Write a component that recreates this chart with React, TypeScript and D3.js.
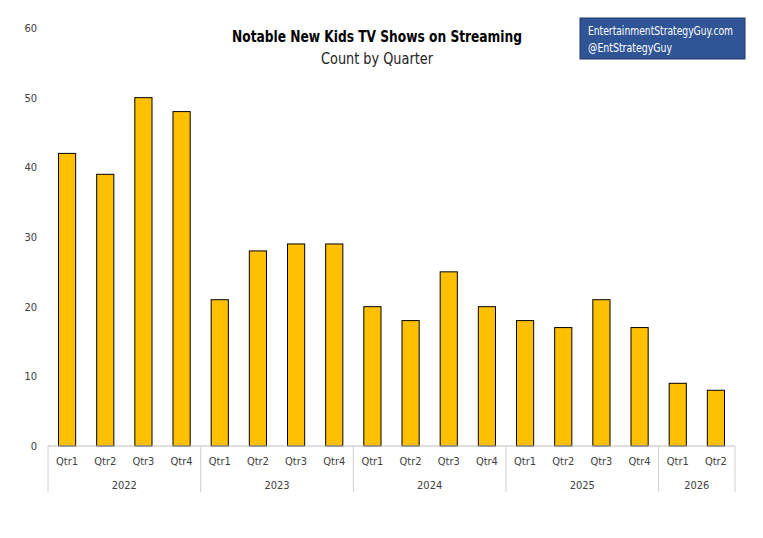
import React from "react";
import * as d3 from "d3";

const years = ["2022", "2023", "2024", "2025", "2026"];
const quarters = ["Qtr1", "Qtr2", "Qtr3", "Qtr4"];
const counts = [42, 39, 50, 48, 21, 28, 29, 29, 20, 18, 25, 20, 18, 17, 21, 17, 9, 8];
const yTicks = [0, 10, 20, 30, 40, 50, 60];

const font = "'DejaVu Sans Condensed', 'Liberation Sans Narrow', sans-serif";

export default function App() {
  const ref = React.useRef<SVGSVGElement | null>(null);

  React.useEffect(() => {
    if (!ref.current) return;
    const svg = d3.select(ref.current);
    svg.selectAll("*").remove();
    const margin = { top: 28, left: 48, right: 28, bottom: 92 };
    const width = 763, height = 538;
    const rows = counts.map((v, i) => ({
      key: `${i}`,
      year: years[Math.floor(i / 4)],
      q: quarters[i % 4],
      v,
    }));
    const x = d3.scaleBand<string>().domain(rows.map(r => r.key))
      .range([margin.left, width - margin.right]).paddingInner(0.55).paddingOuter(0.275);
    const y = d3.scaleLinear().domain([0, 60]).range([height - margin.bottom, margin.top]);
    const base = y(0);

    svg.append("g").selectAll("text").data(yTicks).join("text")
      .attr("x", 37).attr("y", d => y(d) + 4).attr("text-anchor", "end")
      .attr("font-family", font).attr("font-size", 11).attr("fill", "#404040")
      .text(d => d);

    svg.append("g").selectAll("rect").data(rows).join("rect")
      .attr("x", d => x(d.key)!).attr("width", x.bandwidth())
      .attr("y", d => y(d.v)).attr("height", d => base - y(d.v))
      .attr("fill", "#FFC000").attr("stroke", "#000").attr("stroke-width", 1);

    svg.append("line").attr("x1", margin.left).attr("x2", width - margin.right)
      .attr("y1", base).attr("y2", base).attr("stroke", "#bfbfbf");

    const step = x.step();
    const left = margin.left;
    const bounds = [0, 4, 8, 12, 16, 18];
    svg.append("g").selectAll("line").data(bounds).join("line")
      .attr("x1", d => left + d * step).attr("x2", d => left + d * step)
      .attr("y1", base).attr("y2", base + 46).attr("stroke", "#d0d0d0");

    svg.append("g").selectAll("text").data(rows).join("text")
      .attr("x", d => x(d.key)! + x.bandwidth() / 2).attr("y", base + 19)
      .attr("text-anchor", "middle").attr("font-family", font).attr("font-size", 11)
      .attr("fill", "#404040").text(d => d.q);

    svg.append("g").selectAll("text").data(years).join("text")
      .attr("x", (_, i) => left + (bounds[i] + bounds[i + 1]) / 2 * step).attr("y", base + 43)
      .attr("text-anchor", "middle").attr("font-family", font).attr("font-size", 11)
      .attr("fill", "#404040").text(d => d);

    svg.append("text").attr("x", 377).attr("y", 42).attr("text-anchor", "middle")
      .attr("font-family", font).attr("font-size", 16).attr("font-weight", "bold")
      .attr("textLength", 290).attr("lengthAdjust", "spacingAndGlyphs")
      .text("Notable New Kids TV Shows on Streaming");
    svg.append("text").attr("x", 377).attr("y", 64).attr("text-anchor", "middle")
      .attr("font-family", font).attr("font-size", 16).attr("fill", "#222")
      .attr("textLength", 112).attr("lengthAdjust", "spacingAndGlyphs")
      .text("Count by Quarter");

    svg.append("rect").attr("x", 580).attr("y", 18).attr("width", 165).attr("height", 41)
      .attr("fill", "#2F5597").attr("stroke", "#1f3864");
    svg.append("text").attr("x", 588).attr("y", 35).attr("font-family", font)
      .attr("font-size", 12).attr("fill", "#fff")
      .attr("textLength", 145).attr("lengthAdjust", "spacingAndGlyphs")
      .text("EntertainmentStrategyGuy.com");
    svg.append("text").attr("x", 588).attr("y", 52).attr("font-family", font)
      .attr("font-size", 12).attr("fill", "#fff")
      .attr("textLength", 84).attr("lengthAdjust", "spacingAndGlyphs")
      .text("@EntStrategyGuy");
  }, []);

  return <svg ref={ref} width={763} height={538}
    style={{ position: "absolute", left: 0, top: 0, background: "#fff" }} />;
}
